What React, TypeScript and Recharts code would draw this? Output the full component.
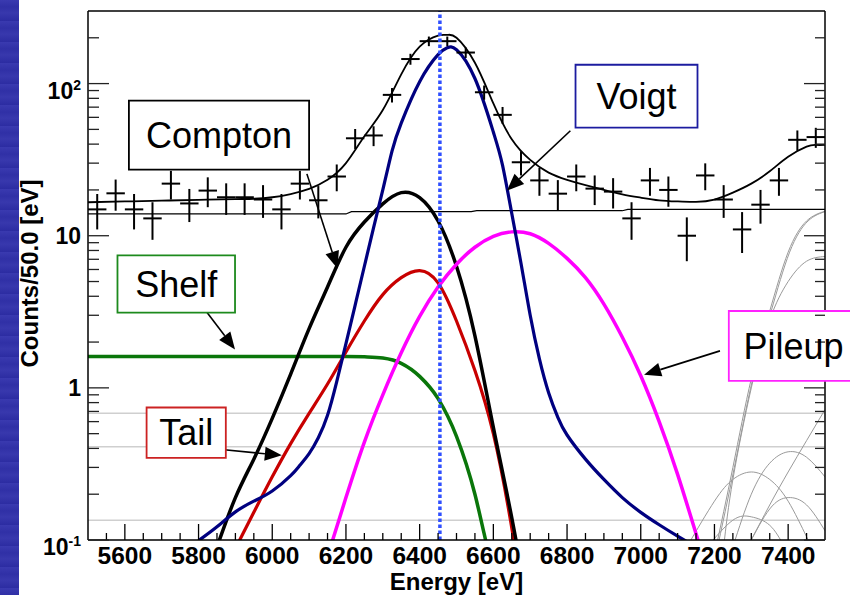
import React from 'react';
import {
  ComposedChart, Line, Scatter, ErrorBar, XAxis, YAxis,
  ReferenceLine, ReferenceArea,
} from 'recharts';

const FONT = '"Liberation Sans", Arial, Helvetica, sans-serif';

// measured spectrum, 50 eV bins
const binCenters = [5525, 5575, 5625, 5675, 5725, 5775, 5825, 5875, 5925, 5975, 6025, 6075, 6125, 6175, 6225, 6275, 6325, 6375, 6425, 6475, 6525, 6575, 6625, 6675, 6725, 6775, 6825, 6875, 6925, 6975, 7025, 7075, 7125, 7175, 7225, 7275, 7325, 7375, 7425, 7475];
const binCounts = [14.9, 19.0, 14.9, 13.0, 22.0, 16.3, 19.8, 17.9, 17.9, 17.3, 14.9, 22.0, 17.1, 24.5, 43.7, 45.6, 84.3, 145, 190, 190, 160, 87.7, 62.3, 30.4, 23.1, 18.9, 24.5, 20.4, 19.5, 13.0, 23.1, 20.0, 10.0, 24.9, 17.3, 11.0, 16.0, 23.1, 42.7, 44.5];
const binErrors = [3.9, 4.4, 3.9, 3.6, 4.7, 4.0, 4.4, 4.2, 4.2, 4.2, 3.9, 4.7, 4.1, 4.9, 6.6, 6.8, 9.2, 12.0, 13.8, 13.8, 12.6, 9.4, 7.9, 5.5, 4.8, 4.3, 4.9, 4.5, 4.4, 3.6, 4.8, 4.5, 3.2, 5.0, 4.2, 3.3, 4.0, 4.8, 6.5, 6.7];
const binHalfWidth = 25;

// fit components [energy, counts]
const totalFit = [[5500, 16.6], [5600, 16.8], [5700, 17], [5800, 17.2], [5900, 17.4], [5950, 17.5], [6000, 17.9], [6050, 18.8], [6100, 20.3], [6150, 23.3], [6200, 30], [6250, 45], [6300, 67], [6350, 115], [6400, 175], [6450, 207], [6475, 209], [6500, 200], [6550, 137], [6600, 74], [6650, 43], [6700, 31.5], [6750, 26], [6800, 23.3], [6850, 21.5], [6900, 20], [6950, 18.7], [7000, 17.8], [7050, 17.1], [7100, 16.8], [7150, 16.7], [7200, 17.3], [7250, 19.2], [7300, 22], [7350, 26.5], [7400, 33], [7450, 38.5], [7475, 39.5], [7500, 39.5]];
const flatBg = [[5500, 13.9], [6200, 13.9], [6215, 14.4], [6540, 14.4], [6555, 14.6], [6950, 14.6], [6965, 14.9], [7500, 14.9]];
const voigt = [[5800, 0.099], [5850, 0.122], [5900, 0.153], [5950, 0.18], [6000, 0.21], [6050, 0.265], [6075, 0.31], [6100, 0.37], [6125, 0.47], [6150, 0.66], [6175, 1.1], [6200, 1.95], [6225, 3.5], [6250, 6.3], [6275, 11.3], [6300, 20], [6325, 36], [6350, 55], [6400, 103], [6450, 155], [6475, 172], [6500, 167], [6550, 108], [6600, 48], [6625, 29], [6650, 14], [6675, 6.6], [6700, 3.0], [6725, 1.55], [6750, 0.93], [6775, 0.64], [6800, 0.49], [6850, 0.34], [6900, 0.25], [6950, 0.19], [7000, 0.152], [7050, 0.126], [7100, 0.106], [7150, 0.09]];
const compton = [[5850, 0.09], [5900, 0.19], [5950, 0.34], [6000, 0.63], [6050, 1.23], [6100, 2.45], [6150, 4.6], [6200, 8.4], [6250, 12.3], [6300, 16.2], [6350, 19.2], [6400, 17.8], [6450, 12.5], [6500, 6.3], [6550, 2.2], [6600, 0.55], [6650, 0.14], [6700, 0.03]];
const tail = [[5900, 0.088], [5950, 0.152], [6000, 0.26], [6050, 0.43], [6100, 0.68], [6150, 1.06], [6200, 1.72], [6250, 2.75], [6300, 4.1], [6350, 5.3], [6400, 5.9], [6450, 4.9], [6500, 2.75], [6550, 1.3], [6600, 0.5], [6650, 0.12], [6700, 0.02]];
const shelf = [[5500, 1.61], [6200, 1.61], [6250, 1.6], [6300, 1.57], [6350, 1.45], [6400, 1.19], [6450, 0.85], [6500, 0.48], [6550, 0.2], [6575, 0.11], [6600, 0.06]];
const pileup = [[6150, 0.078], [6200, 0.19], [6250, 0.44], [6300, 0.9], [6350, 1.7], [6400, 2.95], [6450, 4.6], [6500, 6.5], [6550, 8.4], [6600, 9.9], [6650, 10.6], [6700, 10.3], [6750, 8.9], [6800, 7.1], [6850, 5.3], [6900, 3.55], [6950, 2.15], [7000, 1.2], [7050, 0.6], [7100, 0.27], [7150, 0.11], [7175, 0.07]];

// faint components of the next line (grey)
const greyA = [[7200, 0.08], [7250, 0.3], [7300, 1.15], [7350, 3.2], [7400, 7.8], [7450, 12.5], [7500, 14.5]];
const greyB = [[7225, 0.09], [7250, 0.25], [7300, 1.0], [7350, 2.8], [7400, 5.0], [7450, 6.8], [7500, 7.3]];
const greyC = [[7250, 0.09], [7300, 0.2], [7350, 0.32], [7400, 0.38], [7450, 0.35], [7500, 0.26]];
const greyD = [[7125, 0.09], [7200, 0.18], [7250, 0.25], [7300, 0.28], [7350, 0.25], [7400, 0.18], [7450, 0.105], [7475, 0.08]];
const greyE = [[7290, 0.09], [7350, 0.16], [7400, 0.19], [7450, 0.17], [7500, 0.115]];
const greyF = [[7180, 0.09], [7250, 0.135], [7300, 0.142], [7350, 0.125], [7390, 0.09]];
const greyG = [[7290, 0.09], [7350, 0.17], [7400, 0.28], [7450, 0.45], [7500, 0.72]];
const greyLevels = [0.68, 0.41, 0.135];

const lineEnergy = 6455;

// axis ticks
const xMajor = [5600, 5800, 6000, 6200, 6400, 6600, 6800, 7000, 7200, 7400];
const xTicks: number[] = [];
for (let e = 5550; e < 7500; e += 50) xTicks.push(e);
const yTicks = [0.2, 0.3, 0.4, 0.5, 0.6, 0.7, 0.8, 0.9, 1, 2, 3, 4, 5, 6, 7, 8, 9, 10, 20, 30, 40, 50, 60, 70, 80, 90, 100, 200, 0.1];
const yMajor = [0.1, 1, 10, 100];
const yMajorBase = ['10', '1', '10', '10'];
const yMajorExp = ['-1', '', '', '2'];

// annotation boxes and arrows (energy / counts coordinates)
const notes = [
  { text: 'Compton', color: '#000000', box: [5611, 6100, 27.2, 77.3], from: [6094, 25.5], to: [6177, 6.1] },
  { text: 'Voigt', color: '#1c1ca0', box: [6823, 7154, 51.4, 133], from: [6809, 49], to: [6637, 19.8] },
  { text: 'Shelf', color: '#1d8a1d', box: [5580, 5899, 3.12, 7.43], from: [5820, 3.2], to: [5899, 1.79] },
  { text: 'Tail', color: '#cc2222', box: [5659, 5874, 0.347, 0.743], from: [5863, 0.393], to: [6026, 0.36] },
  { text: 'Pileup', color: '#ff22ff', box: [7239, 7590, 1.11, 3.2], from: [7215, 1.75], to: [7009, 1.22] },
];

const rows = (pts: number[][]) => pts.map(([e, v]) => ({ e, v }));
const points = binCenters.map((e, i) => ({
  e, c: binCounts[i], ex: binHalfWidth, ey: binErrors[i],
}));

const BottomTick = (p: any) => {
  const { x, y, payload } = p;
  const major = xMajor.includes(payload.value);
  return (
    <g>
      <line x1={x} x2={x} y1={y} y2={y - (major ? 16 : 7)} stroke="#000" strokeWidth={1.3} />
      {major && (
        <text x={x} y={y + 24} textAnchor="middle" fontFamily={FONT} fontWeight="bold" fontSize={24.5} fill="#000">
          {payload.value}
        </text>
      )}
    </g>
  );
};

const TopTick = (p: any) => {
  const { x, y, payload } = p;
  const major = xMajor.includes(payload.value);
  return <line x1={x} x2={x} y1={y} y2={y + (major ? 15 : 7)} stroke="#000" strokeWidth={1.3} />;
};

const LeftTick = (p: any) => {
  const { x, y, payload } = p;
  const i = yMajor.indexOf(payload.value);
  const major = i >= 0;
  const exp = major ? yMajorExp[i] : '';
  return (
    <g>
      <line x1={x} x2={x + (major ? 21 : 11)} y1={y} y2={y} stroke="#222" strokeWidth={1.3} />
      {major && (
        <text x={x - 7} y={y + (exp ? 15 : 8)} textAnchor="end" fontFamily={FONT} fontWeight="bold" fontSize={23} fill="#000">
          <tspan>{yMajorBase[i]}</tspan>
          {exp && <tspan dy={-9} fontSize={14}>{exp}</tspan>}
        </text>
      )}
    </g>
  );
};

const RightTick = (p: any) => {
  const { x, y, payload } = p;
  const major = yMajor.includes(payload.value);
  return <line x1={x} x2={x - (major ? 21 : 10)} y1={y} y2={y} stroke="#222" strokeWidth={1.3} />;
};

const Arrow = (p: any) => {
  const { x1, y1, x2, y2 } = p;
  const dx = x2 - x1;
  const dy = y2 - y1;
  const len = Math.hypot(dx, dy) || 1;
  const ux = dx / len;
  const uy = dy / len;
  const hl = 17;
  const hw = 7;
  const bx = x2 - ux * hl;
  const by = y2 - uy * hl;
  return (
    <g>
      <line x1={x1} y1={y1} x2={bx} y2={by} stroke="#000" strokeWidth={1.6} />
      <polygon points={`${x2},${y2} ${bx - uy * hw},${by + ux * hw} ${bx + uy * hw},${by - ux * hw}`} fill="#000" />
    </g>
  );
};

const curve = (key: string, pts: number[][], color: string, width: number, type: any = 'natural') => (
  <Line
    key={key}
    data={rows(pts)}
    dataKey="v"
    type={type}
    stroke={color}
    strokeWidth={width}
    dot={false}
    activeDot={false}
    connectNulls
    isAnimationActive={false}
  />
);

export default function App() {
  return (
    <div style={{ position: 'absolute', left: 0, top: 0, width: 850, height: 595, overflow: 'hidden', background: '#fff' }}>
      <div
        style={{
          position: 'absolute', left: 0, top: 0, width: 19, height: 595,
          background: 'repeating-linear-gradient(180deg, #3a3ab0 0px, #3030a6 7px, #3838ad 13px, #2c2ca2 21px)',
        }}
      />
      <div style={{ position: 'absolute', left: 0, top: 0 }}>
        <ComposedChart width={850} height={595} margin={{ top: 0, right: 0, bottom: 0, left: 0 }}>
          <XAxis
            dataKey="e"
            type="number"
            domain={[5500, 7500]}
            allowDataOverflow
            ticks={xTicks}
            interval={0}
            height={55}
            tickSize={0}
            tickMargin={0}
            tickLine={false}
            axisLine={{ stroke: '#000', strokeWidth: 1.5 }}
            tick={<BottomTick />}
            label={(lp: any) => {
              const vb = lp.viewBox || { x: 88, y: 540, width: 737, height: 55 };
              return (
                <text x={vb.x + vb.width / 2} y={vb.y + vb.height - 5} textAnchor="middle" fontFamily={FONT} fontWeight="bold" fontSize={24} fill="#000">
                  Energy [eV]
                </text>
              );
            }}
          />
          <XAxis
            xAxisId="top"
            orientation="top"
            type="number"
            domain={[5500, 7500]}
            allowDataOverflow
            ticks={xTicks}
            interval={0}
            height={11}
            tickSize={0}
            tickMargin={0}
            tickLine={false}
            axisLine={{ stroke: '#000', strokeWidth: 1.5 }}
            tick={<TopTick />}
          />
          <YAxis
            scale="log"
            type="number"
            domain={[0.1, 300]}
            allowDataOverflow
            ticks={yTicks}
            interval={0}
            width={88}
            tickSize={0}
            tickMargin={0}
            tickLine={false}
            axisLine={{ stroke: '#000', strokeWidth: 1.5 }}
            tick={<LeftTick />}
            label={(lp: any) => {
              const vb = lp.viewBox || { x: 0, y: 11, width: 88, height: 529 };
              const cy = vb.y + vb.height / 2 - 2;
              return (
                <text transform={`translate(${vb.x + 38}, ${cy}) rotate(-90)`} textAnchor="middle" fontFamily={FONT} fontWeight="bold" fontSize={24} fill="#000">
                  Counts/50.0 [eV]
                </text>
              );
            }}
          />
          <YAxis
            yAxisId="right"
            orientation="right"
            scale="log"
            type="number"
            domain={[0.1, 300]}
            allowDataOverflow
            ticks={yTicks}
            interval={0}
            width={25}
            tickSize={0}
            tickMargin={0}
            tickLine={false}
            axisLine={{ stroke: '#000', strokeWidth: 1.5 }}
            tick={<RightTick />}
          />

          {greyLevels.map((g) => (
            <ReferenceLine key={`lvl${g}`} y={g} stroke="#cfcfcf" strokeWidth={1.5} />
          ))}

          {curve('gA', greyA, '#9a9a9a', 1)}
          {curve('gA2', greyA.map(([e, v]) => [e + 4, v]), '#9a9a9a', 1)}
          {curve('gB', greyB, '#9a9a9a', 1)}
          {curve('gC', greyC, '#9a9a9a', 1)}
          {curve('gD', greyD, '#9a9a9a', 1)}
          {curve('gE', greyE, '#9a9a9a', 1)}
          {curve('gF', greyF, '#9a9a9a', 1)}
          {curve('gG', greyG, '#9a9a9a', 1)}

          {curve('flat', flatBg, '#000', 1.2, 'linear')}
          {curve('shelf', shelf, '#0a760a', 3.5, 'monotone')}
          {curve('tail', tail, '#c80000', 3.2)}
          {curve('compton', compton, '#000', 3.5)}
          {curve('pileup', pileup, '#ff00ff', 3.5)}
          {curve('voigt', voigt, '#000080', 3.2)}
          {curve('total', totalFit, '#000', 1.8)}

          <Scatter data={points} dataKey="c" fill="#000" shape={() => <g />} isAnimationActive={false}>
            <ErrorBar dataKey="ex" direction="x" width={0} stroke="#000" strokeWidth={2} />
            <ErrorBar dataKey="ey" direction="y" width={0} stroke="#000" strokeWidth={2} />
          </Scatter>

          <ReferenceLine x={lineEnergy} stroke="#2f4fff" strokeWidth={3.5} strokeDasharray="3.5 2.5" />

          {notes.map((n) => (
            <ReferenceLine
              key={`arrow-${n.text}`}
              segment={[{ x: n.from[0], y: n.from[1] }, { x: n.to[0], y: n.to[1] }]}
              ifOverflow="visible"
              shape={Arrow}
            />
          ))}

          {notes.map((n) => (
            <ReferenceArea
              key={`box-${n.text}`}
              x1={n.box[0]}
              x2={n.box[1]}
              y1={n.box[2]}
              y2={n.box[3]}
              ifOverflow="visible"
              fill="#ffffff"
              fillOpacity={1}
              stroke={n.color}
              strokeWidth={1.8}
              zIndex={1500}
              label={{ value: n.text, position: 'center', fontSize: 36, fill: '#000', fontFamily: FONT }}
            />
          ))}
        </ComposedChart>
      </div>
    </div>
  );
}
